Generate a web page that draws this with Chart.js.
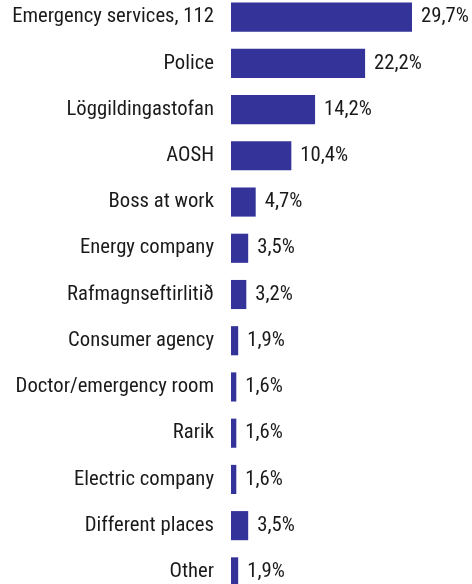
<!DOCTYPE html>
<html><head><meta charset="utf-8">
<script src="https://cdn.jsdelivr.net/npm/chart.js@4"></script>
<style>
html,body{margin:0;padding:0;background:#fff;overflow:hidden;}
#c{position:absolute;left:0;top:-6px;}
</style></head><body>
<canvas id="c" width="472" height="601"></canvas>
<script>
const categories = ["Emergency services, 112","Police","Löggildingastofan","AOSH","Boss at work","Energy company","Rafmagnseftirlitið","Consumer agency","Doctor/emergency room","Rarik","Electric company","Different places","Other"];
const values = [29.7,22.2,14.2,10.4,4.7,3.5,3.2,1.9,1.6,1.6,1.6,3.5,1.9];
const valueLabels = ["29,7%","22,2%","14,2%","10,4%","4,7%","3,5%","3,2%","1,9%","1,6%","1,6%","1,6%","3,5%","1,9%"];

const FONT = {family: "'Roboto Condensed','Liberation Sans Narrow',sans-serif", size: 20.7};
const TEXT = '#1a1a1a';

const valuePlugin = {
  id: 'valueLabels',
  afterDatasetsDraw(chart) {
    const ctx = chart.ctx;
    const meta = chart.getDatasetMeta(0);
    ctx.save();
    ctx.font = FONT.size + 'px ' + FONT.family;
    ctx.fillStyle = TEXT;
    ctx.textAlign = 'left';
    ctx.textBaseline = 'middle';
    meta.data.forEach((el, i) => {
      ctx.fillText(valueLabels[i], el.x + 9, el.y);
    });
    ctx.restore();
  }
};

new Chart(document.getElementById('c'), {
  type: 'bar',
  data: {
    labels: categories,
    datasets: [{data: values, backgroundColor: '#333399', borderWidth: 0,
      categoryPercentage: 1, barPercentage: 0.63}]
  },
  options: {
    indexAxis: 'y',
    responsive: false,
    animation: false,
    layout: {padding: 0, autoPadding: false},
    plugins: {legend: {display: false}, tooltip: {enabled: false}},
    scales: {
      x: {display: false, min: 0.75, max: 39.3},
      y: {
        grid: {display: false, drawTicks: false},
        border: {display: false},
        ticks: {color: TEXT, font: FONT, padding: 17, autoSkip: false},
        afterFit(scale) {
          scale.width = 231;
          scale.paddingTop = 0; scale.paddingBottom = 0;
        }
      }
    }
  },
  plugins: [valuePlugin]
});
</script>
</body></html>
